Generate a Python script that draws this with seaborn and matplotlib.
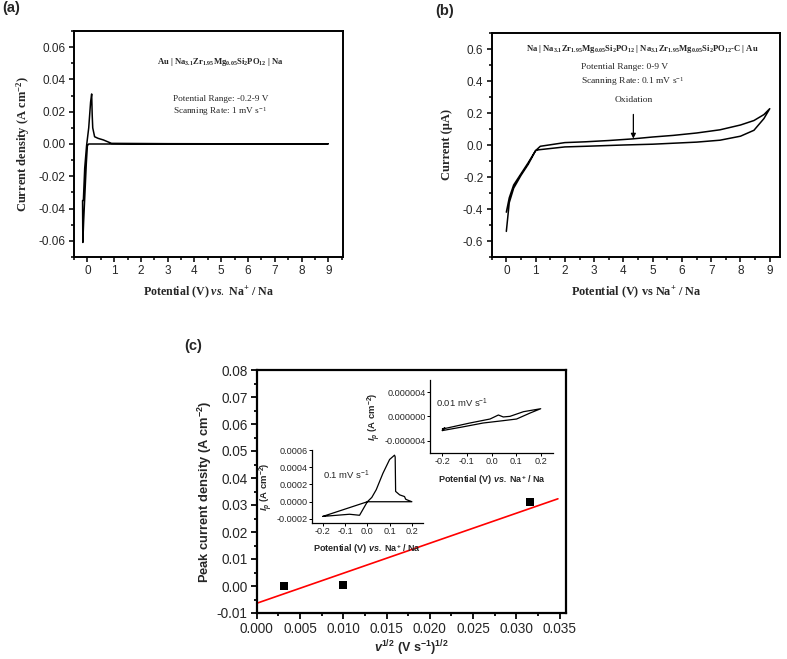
"""
plot.py
-------
CV curves of the Na3.1Zr1.95Mg0.05Si2PO12 electrolyte (a, b) and the
peak current density vs. square root of scan rate (c) with two CV insets.
"""

import matplotlib
matplotlib.use("Agg")
import matplotlib.pyplot as plt
from matplotlib.ticker import MultipleLocator, FormatStrFormatter
import seaborn as sns

# ---------------------------------------------------------------------------
# Data
# ---------------------------------------------------------------------------
# (a) Au | NZSP-Mg | Na, -0.2-9 V, 1 mV/s
a_pot = [-0.15, -0.10, -0.03, 0.05, 0.12, 0.16, 0.18, 0.20, 0.27, 0.40, 0.60,
         0.90, 3.0, 6.0, 9.0, 6.0, 3.0, 1.0, 0.20, 0.05, 0.0, -0.04, -0.09,
         -0.14, -0.17, -0.18]
a_cur = [-0.035, -0.015, -0.001, 0.010, 0.026, 0.031, 0.018, 0.010, 0.0045,
         0.0035, 0.0025, 0.0004, 0.0002, 0.0001, 0.0001, 0.0, 0.0, 0.0, 0.0,
         0.0, -0.001, -0.012, -0.030, -0.048, -0.061, -0.035]

# (b) Na | NZSP-Mg | NZSP-Mg-C | Au, 0-9 V, 0.1 mV/s
b_pot = [0.0, 0.10, 0.25, 0.50, 0.75, 1.00, 1.16, 2.0, 2.7, 3.5, 4.3, 5.0,
         5.7, 6.5, 7.3, 8.0, 8.46, 8.8, 9.0, 8.8, 8.46, 8.0, 7.3, 6.5, 5.0,
         4.0, 2.7, 2.0, 1.1, 1.0, 0.75, 0.50, 0.25, 0.10, 0.0]
b_cur = [-0.42, -0.33, -0.25, -0.18, -0.11, -0.035, -0.008, 0.015, 0.020,
         0.028, 0.038, 0.050, 0.060, 0.075, 0.095, 0.125, 0.153, 0.190, 0.227,
         0.165, 0.092, 0.055, 0.030, 0.018, 0.005, 0.000, -0.008, -0.012,
         -0.030, -0.035, -0.12, -0.19, -0.27, -0.36, -0.54]

# (c) peak current density vs v^1/2
c_raiz_v = [0.00316, 0.0100, 0.0316]
c_pico = [0.0000, 0.0005, 0.0310]
c_ajuste_x = [0.0, 0.0348]
c_ajuste_y = [-0.0064, 0.0323]

# inset 0.1 mV/s
i1_pot = [-0.20, -0.08, -0.035, 0.0, 0.02, 0.04, 0.07, 0.10, 0.122, 0.125,
          0.127, 0.145, 0.167, 0.172, 0.18, 0.20, 0.10, 0.0, -0.20]
i1_cur = [-0.00017, -0.000145, -0.000157, 0.0, 0.00005, 0.00014, 0.00033,
          0.00049, 0.00054, 0.00052, 0.00012, 0.00008, 0.00006, 0.00003,
          0.00002, 0.0, 0.0, 0.0, -0.00017]

# inset 0.01 mV/s
i2_pot = [-0.20, -0.19, -0.20, -0.088, -0.006, 0.028, 0.048, 0.075, 0.13,
          0.20, 0.157, 0.102, 0.048, -0.034, -0.118, -0.20]
i2_cur = [-2.35e-6, -1.9e-6, -2.1e-6, -1.1e-6, -0.44e-6, 0.22e-6, -0.1e-6,
          0.0, 0.77e-6, 1.26e-6, 0.55e-6, -0.44e-6, -0.71e-6, -1.1e-6,
          -1.75e-6, -2.35e-6]

# ---------------------------------------------------------------------------
# Style
# ---------------------------------------------------------------------------
sns.set_theme(style="ticks")
SERIF = ["Liberation Serif", "DejaVu Serif"]
SANS = ["Liberation Sans", "DejaVu Sans"]
plt.rcParams.update({
    "font.family": SANS,
    "axes.unicode_minus": False,
    "mathtext.fontset": "custom",
    "mathtext.rm": "Liberation Serif",
    "mathtext.it": "Liberation Serif:italic:bold",
    "mathtext.sf": "Liberation Sans:italic:bold",
    "mathtext.default": "regular",
    "xtick.direction": "out",
    "ytick.direction": "out",
    "axes.facecolor": "white",
    "figure.facecolor": "white",
})


def estilo_eixo(ax, lw=1.4, tick=8.5, maj=3.5, mnr=2.0, pad=2.5):
    for s in ax.spines.values():
        s.set_linewidth(lw)
        s.set_color("black")
    ax.tick_params(which="major", length=maj, width=lw * 0.8, labelsize=tick,
                   color="black", pad=pad)
    ax.tick_params(which="minor", length=mnr, width=lw * 0.8, color="black")
    ax.tick_params(top=False, right=False, which="both")


fig = plt.figure(figsize=(7.87, 6.59), dpi=100)

# ---------------------------------------------------------------------------
# (a)
# ---------------------------------------------------------------------------
ax_a = fig.add_axes([74 / 787, 1 - 257 / 659, 269 / 787, 226 / 659])
sns.lineplot(x=a_pot, y=a_cur, sort=False, estimator=None, color="black",
             linewidth=1.1, ax=ax_a)
ax_a.set_xlim(-0.5, 9.55)
ax_a.set_ylim(-0.07, 0.07)
ax_a.xaxis.set_major_locator(MultipleLocator(1))
ax_a.xaxis.set_minor_locator(MultipleLocator(0.5))
ax_a.yaxis.set_major_locator(MultipleLocator(0.02))
ax_a.yaxis.set_minor_locator(MultipleLocator(0.01))
ax_a.yaxis.set_major_formatter(FormatStrFormatter("%.2f"))
estilo_eixo(ax_a)
ax_a.set_xlabel(r"Potential (V) $\mathit{vs.}$ Na$^{+}$ / Na",
                family=SERIF, fontweight="bold", fontsize=8.6, labelpad=5)
ax_a.set_ylabel(r"Current density (A cm$^{-2}$)", family=SERIF,
                fontweight="bold", fontsize=9, labelpad=5)
ax_a.text(4.97, 0.051,
          r"Au | Na$_{3.1}$Zr$_{1.95}$Mg$_{0.05}$Si$_{2}$PO$_{12}$ | Na",
          family=SERIF, fontweight="bold", fontsize=6.2, ha="center",
          va="center")
ax_a.text(3.2, 0.028, "Potential Range: -0.2-9 V", family=SERIF,
          fontsize=6.7, va="center")
ax_a.text(3.2, 0.020, r"Scanning Rate: 1 mV s$^{-1}$", family=SERIF,
          fontsize=6.7, va="center")

# ---------------------------------------------------------------------------
# (b)
# ---------------------------------------------------------------------------
ax_b = fig.add_axes([491.7 / 787, 1 - 257 / 659, 288.3 / 787, 224 / 659])
sns.lineplot(x=b_pot, y=b_cur, sort=False, estimator=None, color="black",
             linewidth=1.1, ax=ax_b)
ax_b.set_xlim(-0.5, 9.35)
ax_b.set_ylim(-0.7, 0.7)
ax_b.xaxis.set_major_locator(MultipleLocator(1))
ax_b.xaxis.set_minor_locator(MultipleLocator(0.5))
ax_b.yaxis.set_major_locator(MultipleLocator(0.2))
ax_b.yaxis.set_minor_locator(MultipleLocator(0.1))
ax_b.yaxis.set_major_formatter(FormatStrFormatter("%.1f"))
estilo_eixo(ax_b)
ax_b.set_xlabel(r"Potential (V) vs Na$^{+}$ / Na", family=SERIF,
                fontweight="bold", fontsize=8.8, labelpad=5)
ax_b.set_ylabel("Current (μA)", family=SERIF, fontweight="bold",
                fontsize=9, labelpad=7)
ax_b.text(4.66, 0.6,
          r"Na | Na$_{3.1}$Zr$_{1.95}$Mg$_{0.05}$Si$_{2}$PO$_{12}$ | "
          r"Na$_{3.1}$Zr$_{1.95}$Mg$_{0.05}$Si$_{2}$PO$_{12}$-C | Au",
          family=SERIF, fontweight="bold", fontsize=6.2, ha="center",
          va="center")
ax_b.text(2.55, 0.485, "Potential Range: 0-9 V", family=SERIF, fontsize=6.8,
          va="center")
ax_b.text(2.55, 0.40, r"Scanning Rate: 0.1 mV s$^{-1}$", family=SERIF,
          fontsize=6.8, va="center")
ax_b.annotate("Oxidation", xy=(4.34, 0.04), xytext=(4.34, 0.28),
              family=SERIF, fontsize=6.8, ha="center", va="center",
              arrowprops=dict(arrowstyle="-|>", color="black", lw=0.9,
                              shrinkA=5, shrinkB=0, mutation_scale=7))

# ---------------------------------------------------------------------------
# (c)
# ---------------------------------------------------------------------------
ax_c = fig.add_axes([256.7 / 787, 1 - 613 / 659, 309 / 787, 243 / 659])
sns.lineplot(x=c_ajuste_x, y=c_ajuste_y, color="red", linewidth=1.2,
             ax=ax_c)
sns.scatterplot(x=c_raiz_v, y=c_pico, marker="s", color="black", s=30,
                edgecolor="black", linewidth=0, ax=ax_c, zorder=3)
ax_c.set_xlim(0, 0.0357)
ax_c.set_ylim(-0.01, 0.08)
ax_c.xaxis.set_major_locator(MultipleLocator(0.005))
ax_c.xaxis.set_minor_locator(MultipleLocator(0.0025))
ax_c.yaxis.set_major_locator(MultipleLocator(0.01))
ax_c.yaxis.set_minor_locator(MultipleLocator(0.005))
ax_c.xaxis.set_major_formatter(FormatStrFormatter("%.3f"))
ax_c.yaxis.set_major_formatter(FormatStrFormatter("%.2f"))
estilo_eixo(ax_c, lw=1.6, tick=9.8, maj=4, mnr=2.2)
ax_c.set_xlabel(r"$\mathsf{v}^{1/2}$ (V s$^{-1}$)$^{1/2}$", fontweight="bold",
                fontsize=9, labelpad=2)
ax_c.set_ylabel(r"Peak current density (A cm$^{-2}$)", fontweight="bold",
                fontsize=9.3, labelpad=2)

# inset 0.1 mV/s
ax_i1 = fig.add_axes([311.7 / 787, 1 - 523.3 / 659, 111.3 / 787, 73.3 / 659])
sns.lineplot(x=i1_pot, y=i1_cur, sort=False, estimator=None, color="black",
             linewidth=0.9, ax=ax_i1)
ax_i1.set_xlim(-0.25, 0.25)
ax_i1.set_ylim(-0.00025, 0.0006)
ax_i1.xaxis.set_major_locator(MultipleLocator(0.1))
ax_i1.yaxis.set_major_locator(MultipleLocator(0.0002))
ax_i1.xaxis.set_major_formatter(FormatStrFormatter("%.1f"))
ax_i1.yaxis.set_major_formatter(FormatStrFormatter("%.4f"))
ax_i1.patch.set_alpha(0)
estilo_eixo(ax_i1, lw=0.9, tick=6.6, maj=2, pad=1)
ax_i1.spines[["top", "right"]].set_visible(False)
ax_i1.set_xlabel(r"Potential (V) $\mathsf{vs.}$ Na$^{+}$ / Na",
                 fontweight="bold", fontsize=6.5, labelpad=4)
ax_i1.set_ylabel(r"$\mathsf{I}_{\mathsf{p}}$ (A cm$^{-2}$)", fontweight="bold",
                 fontsize=6.8, labelpad=1)
ax_i1.text(-0.2, 0.00031, r"0.1 mV s$^{-1}$", fontsize=6.8, va="center")

# inset 0.01 mV/s
ax_i2 = fig.add_axes([430 / 787, 1 - 452.7 / 659, 123 / 787, 72.7 / 659])
sns.lineplot(x=i2_pot, y=i2_cur, sort=False, estimator=None, color="black",
             linewidth=0.9, ax=ax_i2)
ax_i2.set_xlim(-0.25, 0.25)
ax_i2.set_ylim(-6e-6, 6e-6)
ax_i2.xaxis.set_major_locator(MultipleLocator(0.1))
ax_i2.yaxis.set_major_locator(MultipleLocator(4e-6))
ax_i2.xaxis.set_major_formatter(FormatStrFormatter("%.1f"))
ax_i2.yaxis.set_major_formatter(FormatStrFormatter("%.6f"))
ax_i2.patch.set_alpha(0)
estilo_eixo(ax_i2, lw=0.9, tick=6.6, maj=2, pad=1)
ax_i2.spines[["top", "right"]].set_visible(False)
ax_i2.set_xlabel(r"Potential (V) $\mathsf{vs.}$ Na$^{+}$ / Na",
                 fontweight="bold", fontsize=6.5, labelpad=5)
ax_i2.set_ylabel(r"$\mathsf{I}_{\mathsf{p}}$ (A cm$^{-2}$)", fontweight="bold",
                 fontsize=6.8, labelpad=1)
ax_i2.text(-0.224, 2.1e-6, r"0.01 mV s$^{-1}$", fontsize=6.8, va="center")

# panel letters
fig.text(2 / 787, 1 - 8 / 659, "(a)", fontweight="bold", fontsize=10.5,
         va="center")
fig.text(435 / 787, 1 - 11 / 659, "(b)", fontweight="bold", fontsize=10.5,
         va="center")
fig.text(184 / 787, 1 - 346 / 659, "(c)", fontweight="bold", fontsize=10.5,
         va="center")

fig.savefig("out.png", dpi=100)
plt.close(fig)
